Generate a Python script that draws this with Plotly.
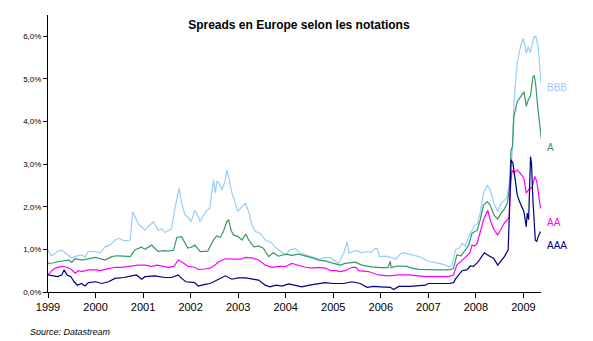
import plotly.graph_objects as go

# ---- data (decimal years, spread in %) ----
bbb_t = [1999.0,1999.06,1999.11,1999.2,1999.29,1999.38,1999.5,1999.6,1999.71,1999.78,1999.85,2000.0,2000.1,2000.2,2000.3,2000.41,2000.5,2000.6,2000.73,2000.78,2000.85,2000.9,2000.97,2001.04,2001.12,2001.22,2001.32,2001.4,2001.46,2001.55,2001.6,2001.67,2001.76,2001.81,2001.88,2001.95,2002.01,2002.09,2002.15,2002.2,2002.27,2002.34,2002.4,2002.45,2002.48,2002.52,2002.55,2002.6,2002.66,2002.73,2002.76,2002.8,2002.87,2002.92,2002.99,2003.08,2003.15,2003.22,2003.29,2003.36,2003.46,2003.57,2003.64,2003.71,2003.78,2003.85,2003.92,2004.0,2004.09,2004.2,2004.3,2004.4,2004.48,2004.6,2004.69,2004.83,2004.95,2005.05,2005.11,2005.22,2005.29,2005.33,2005.4,2005.5,2005.6,2005.7,2005.8,2005.87,2005.93,2005.97,2006.1,2006.2,2006.31,2006.38,2006.45,2006.55,2006.65,2006.8,2006.9,2007.01,2007.1,2007.22,2007.32,2007.43,2007.5,2007.57,2007.64,2007.71,2007.78,2007.85,2007.92,2007.98,2008.03,2008.09,2008.16,2008.24,2008.3,2008.38,2008.46,2008.53,2008.6,2008.66,2008.73,2008.76,2008.8,2008.87,2008.94,2008.99,2009.03,2009.06,2009.1,2009.15,2009.22,2009.26,2009.31,2009.34,2009.37]
bbb_v = [0.99,0.85,0.87,0.95,0.98,0.90,0.80,0.84,0.87,0.82,0.95,0.95,0.92,1.06,1.10,1.22,1.26,1.20,1.22,1.88,1.70,1.60,1.53,1.45,1.55,1.65,1.45,1.48,1.40,1.45,1.50,1.97,2.44,2.09,1.81,1.75,1.65,1.92,1.80,1.65,1.80,1.92,1.95,2.32,2.63,2.32,2.60,2.55,2.39,2.63,2.86,2.70,2.32,2.16,1.89,2.00,2.08,1.89,1.57,1.42,1.38,1.22,1.18,1.15,1.05,0.99,0.95,0.87,0.99,1.02,0.92,0.88,0.83,0.80,0.77,0.81,0.80,0.72,0.67,0.91,1.18,0.91,0.95,0.97,0.92,0.95,0.93,1.02,1.02,0.83,0.84,0.82,0.77,0.85,0.92,0.90,0.87,0.83,0.78,0.71,0.70,0.67,0.65,0.59,0.62,0.99,1.02,1.14,1.08,1.30,1.46,1.57,1.60,1.85,2.32,2.51,2.40,2.08,1.89,2.08,2.15,2.24,2.79,3.20,4.43,5.37,5.76,5.95,5.80,5.60,5.76,5.62,5.99,6.00,5.76,5.29,4.90]

a_t = [1999.0,1999.1,1999.2,1999.3,1999.43,1999.5,1999.57,1999.71,1999.85,2000.0,2000.1,2000.2,2000.34,2000.45,2000.6,2000.73,2000.83,2000.97,2001.04,2001.18,2001.25,2001.32,2001.42,2001.53,2001.64,2001.71,2001.81,2001.88,2001.94,2002.01,2002.09,2002.2,2002.28,2002.36,2002.48,2002.55,2002.62,2002.69,2002.76,2002.8,2002.85,2002.9,2003.0,2003.08,2003.16,2003.22,2003.33,2003.43,2003.53,2003.64,2003.74,2003.85,2004.0,2004.13,2004.27,2004.38,2004.48,2004.6,2004.69,2004.83,2004.95,2005.05,2005.15,2005.25,2005.36,2005.46,2005.6,2005.7,2005.8,2006.0,2006.15,2006.2,2006.22,2006.3,2006.41,2006.55,2006.65,2006.8,2007.01,2007.22,2007.43,2007.53,2007.6,2007.69,2007.78,2007.85,2007.92,2007.98,2008.03,2008.09,2008.16,2008.24,2008.3,2008.38,2008.46,2008.53,2008.6,2008.66,2008.71,2008.74,2008.77,2008.8,2008.87,2008.94,2009.01,2009.06,2009.1,2009.15,2009.2,2009.23,2009.26,2009.3,2009.34,2009.38]
a_v = [0.67,0.68,0.71,0.73,0.75,0.70,0.78,0.75,0.78,0.81,0.78,0.75,0.83,0.85,0.84,0.83,0.99,1.05,1.00,1.10,1.02,0.95,0.97,0.96,0.98,1.28,1.30,1.14,1.03,1.05,1.10,0.95,0.96,0.96,1.22,1.32,1.28,1.42,1.65,1.69,1.45,1.34,1.30,1.22,1.36,1.22,1.06,1.08,1.03,0.83,0.92,0.84,0.89,0.86,0.89,0.86,0.83,0.79,0.75,0.73,0.69,0.66,0.63,0.67,0.69,0.70,0.63,0.61,0.59,0.57,0.57,0.72,0.57,0.60,0.61,0.60,0.56,0.53,0.52,0.52,0.52,0.55,0.87,0.85,0.99,1.10,1.38,1.41,1.45,1.69,2.04,2.12,2.04,1.81,1.71,1.85,1.95,2.08,2.47,3.33,3.41,4.12,4.47,4.58,4.70,4.36,4.50,4.60,5.05,5.08,4.85,4.35,3.96,3.57]

aa_t = [1999.0,1999.08,1999.15,1999.29,1999.4,1999.5,1999.57,1999.64,1999.71,1999.85,2000.0,2000.1,2000.2,2000.3,2000.41,2000.55,2000.7,2000.9,2001.04,2001.18,2001.3,2001.42,2001.53,2001.65,2001.74,2001.81,2001.95,2002.08,2002.16,2002.3,2002.41,2002.5,2002.59,2002.73,2002.85,2002.92,2003.06,2003.15,2003.29,2003.43,2003.57,2003.71,2003.85,2004.0,2004.13,2004.27,2004.41,2004.55,2004.69,2004.83,2004.95,2005.05,2005.15,2005.25,2005.4,2005.48,2005.53,2005.74,2005.95,2006.17,2006.38,2006.6,2006.8,2006.94,2007.22,2007.43,2007.53,2007.6,2007.67,2007.74,2007.8,2007.87,2007.92,2007.98,2008.03,2008.09,2008.16,2008.25,2008.3,2008.38,2008.46,2008.53,2008.6,2008.66,2008.7,2008.73,2008.76,2008.8,2008.87,2008.94,2009.01,2009.06,2009.11,2009.18,2009.24,2009.28,2009.32,2009.36]
aa_v = [0.40,0.50,0.56,0.60,0.58,0.52,0.44,0.50,0.48,0.52,0.52,0.50,0.53,0.55,0.58,0.58,0.60,0.63,0.63,0.60,0.63,0.61,0.58,0.60,0.75,0.71,0.60,0.58,0.53,0.54,0.56,0.62,0.71,0.78,0.77,0.77,0.77,0.81,0.80,0.75,0.63,0.58,0.60,0.60,0.67,0.63,0.58,0.56,0.58,0.56,0.50,0.50,0.48,0.50,0.58,0.58,0.50,0.48,0.40,0.38,0.40,0.40,0.38,0.36,0.36,0.36,0.40,0.63,0.70,0.77,0.83,0.91,1.10,1.08,1.15,1.38,1.69,1.92,1.69,1.46,1.34,1.48,1.62,1.69,1.75,2.47,2.86,2.80,2.86,2.78,2.67,2.32,2.40,2.45,2.71,2.60,2.24,1.96]

aaa_t = [1999.0,1999.1,1999.2,1999.29,1999.34,1999.4,1999.48,1999.55,1999.62,1999.7,1999.78,1999.85,2000.0,2000.13,2000.27,2000.41,2000.6,2000.76,2000.86,2000.97,2001.04,2001.25,2001.46,2001.6,2001.74,2001.81,2001.9,2002.08,2002.16,2002.3,2002.41,2002.59,2002.73,2002.87,2003.0,2003.15,2003.29,2003.43,2003.57,2003.67,2003.8,2003.92,2004.06,2004.2,2004.34,2004.5,2004.69,2004.83,2005.0,2005.22,2005.39,2005.57,2005.71,2005.85,2006.0,2006.2,2006.27,2006.38,2006.62,2006.94,2007.0,2007.25,2007.43,2007.53,2007.58,2007.64,2007.71,2007.81,2007.88,2007.95,2008.05,2008.12,2008.18,2008.23,2008.3,2008.38,2008.46,2008.53,2008.6,2008.68,2008.71,2008.74,2008.78,2008.83,2008.87,2008.92,2008.97,2009.01,2009.06,2009.08,2009.11,2009.15,2009.17,2009.2,2009.25,2009.28,2009.31,2009.36]
aaa_v = [0.40,0.38,0.36,0.40,0.52,0.40,0.36,0.24,0.16,0.20,0.14,0.22,0.24,0.20,0.24,0.32,0.34,0.38,0.40,0.30,0.36,0.38,0.34,0.34,0.40,0.32,0.24,0.22,0.14,0.18,0.20,0.30,0.38,0.30,0.33,0.33,0.30,0.28,0.16,0.12,0.16,0.14,0.19,0.16,0.12,0.16,0.20,0.22,0.20,0.20,0.24,0.20,0.11,0.13,0.12,0.11,0.06,0.13,0.13,0.16,0.20,0.20,0.20,0.22,0.32,0.40,0.50,0.52,0.61,0.60,0.71,0.83,0.92,0.88,0.83,0.78,0.63,0.72,0.83,0.99,2.00,3.10,3.02,2.63,2.28,2.12,2.00,1.89,1.53,1.85,1.70,3.18,3.02,2.16,1.22,1.18,1.30,1.42]

years = [1999, 2000, 2001, 2002, 2003, 2004, 2005, 2006, 2007, 2008, 2009]
year_labels = [str(y) for y in years]
y_ticks = [0, 1, 2, 3, 4, 5, 6]
y_labels = ["0,0%", "1,0%", "2,0%", "3,0%", "4,0%", "5,0%", "6,0%"]

series_names = ["BBB", "A", "AA", "AAA"]
series_t = [bbb_t, a_t, aa_t, aaa_t]
series_v = [bbb_v, a_v, aa_v, aaa_v]
label_y = [4.81, 3.40, 1.64, 1.10]   # vertical position of the end labels
colors = ["#99CCFF", "#339966", "#FF00FF", "#000080"]

FONT = "Arial, Liberation Sans, sans-serif"

fig = go.Figure()
annotations = []
for name, t, v, col, ly in zip(series_names, series_t, series_v, colors, label_y):
    fig.add_trace(go.Scatter(x=t, y=v, mode="lines", name=name,
                             line=dict(color=col, width=1.2), showlegend=False))
    annotations.append(dict(x=1.008, y=ly, xref="paper", yref="y", text=name,
                            showarrow=False, xanchor="left", yanchor="middle",
                            font=dict(family=FONT, size=10, color=col)))

# plot area: x 48..541, y 15..292 px
annotations.append(dict(x=(28 - 48) / 493, y=(292 - 332) / 277, xref="paper", yref="paper",
                        text="<i>Source: Datastream</i>", showarrow=False,
                        xanchor="left", yanchor="middle",
                        font=dict(family=FONT, size=9, color="black")))

fig.update_layout(
    width=593, height=341,
    margin=dict(l=48, r=52, t=15, b=49),
    paper_bgcolor="white", plot_bgcolor="white",
    title=dict(text="<b>Spreads en Europe selon les notations</b>",
               x=0.504, xref="container", xanchor="center",
               y=1 - 25 / 341, yref="container", yanchor="middle",
               font=dict(family=FONT, size=12, color="black")),
    xaxis=dict(range=[1999, 2009.37], tickvals=years, ticktext=year_labels,
               showgrid=False, zeroline=False, showline=True, linecolor="black",
               linewidth=1, ticks="outside", ticklen=5, tickcolor="black",
               tickfont=dict(family=FONT, size=11, color="black")),
    yaxis=dict(range=[0, 6.5], tickvals=y_ticks, ticktext=y_labels,
               showgrid=False, zeroline=False, showline=True, linecolor="black",
               linewidth=1, ticks="outside", ticklen=4, tickcolor="black",
               tickfont=dict(family=FONT, size=8, color="black")),
    annotations=annotations,
)

fig.write_html("out.html")
